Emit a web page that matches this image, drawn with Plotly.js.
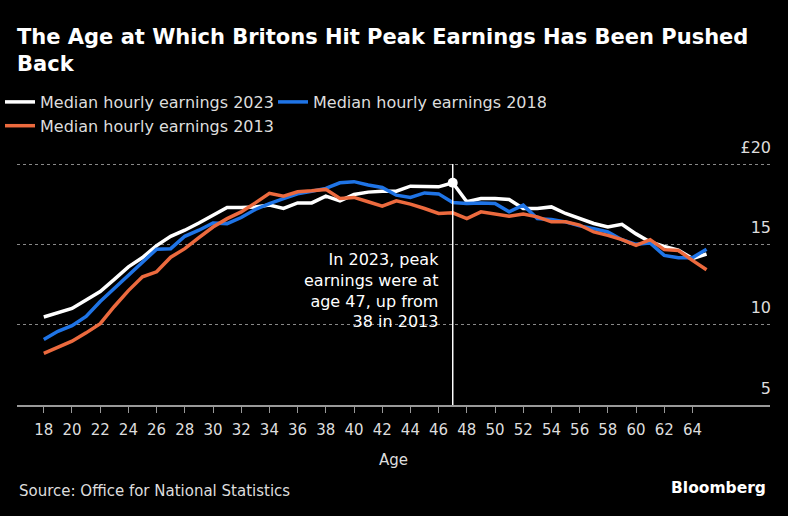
<!DOCTYPE html>
<html>
<head>
<meta charset="utf-8">
<script src="https://cdn.plot.ly/plotly-3.0.1.min.js"></script>
<style>
  html, body { margin: 0; padding: 0; background: #000; }
  #chart { width: 788px; height: 516px; }
</style>
</head>
<body>
<div id="chart"></div>
<script>
// Ages 18..65
const ages = [18,19,20,21,22,23,24,25,26,27,28,29,30,31,32,33,34,35,36,37,38,39,40,41,
              42,43,44,45,46,47,48,49,50,51,52,53,54,55,56,57,58,59,60,61,62,63,64,65];

const earnings2023 = [10.48,10.72,11.01,11.54,12.06,12.82,13.60,14.18,14.92,15.50,15.88,16.33,
  16.80,17.29,17.29,17.33,17.44,17.23,17.58,17.58,18.00,17.71,18.10,18.25,18.31,18.31,18.62,
  18.58,18.58,18.83,17.65,17.85,17.85,17.79,17.23,17.23,17.33,16.92,16.60,16.30,16.08,16.25,
  15.65,15.15,14.87,14.64,14.12,14.40];

const earnings2018 = [9.07,9.59,9.94,10.51,11.44,12.26,13.09,13.91,14.70,14.73,15.50,15.88,
  16.33,16.29,16.67,17.17,17.54,17.85,18.15,18.30,18.48,18.83,18.90,18.69,18.54,18.06,17.92,
  18.20,18.14,17.60,17.54,17.58,17.54,17.02,17.44,16.60,16.54,16.40,16.15,15.98,15.77,15.29,
  15.00,15.08,14.31,14.17,14.17,14.70];

const earnings2013 = [8.21,8.60,8.97,9.49,10.06,11.13,12.12,12.98,13.29,14.20,14.73,15.42,
  16.08,16.60,17.02,17.58,18.17,18.00,18.27,18.33,18.42,17.85,17.92,17.65,17.38,17.71,17.50,
  17.23,16.92,16.96,16.60,17.02,16.88,16.75,16.88,16.71,16.40,16.40,16.20,15.77,15.56,15.29,
  14.94,15.29,14.67,14.62,14.00,13.42];

const seriesNames = ['Median hourly earnings 2023','Median hourly earnings 2018','Median hourly earnings 2013'];
const xTickVals = [18,20,22,24,26,28,30,32,34,36,38,40,42,44,46,48,50,52,54,56,58,60,62,64];
const yTickVals = [5,10,15,20];
const yTickText = ['5','10','15','£20'];
const annotationText = 'In 2023, peak<br>earnings were at<br>age 47, up from<br>38 in 2013';

// peak of the 2023 series
let peakIdx = 0;
earnings2023.forEach((v,i)=>{ if (v > earnings2023[peakIdx]) peakIdx = i; });
const peakAge = ages[peakIdx];
const peakVal = earnings2023[peakIdx];

const FONT = 'DejaVu Sans, Verdana, sans-serif';
const colors = ['#ffffff', '#1f74e6', '#ec6a3e'];

// plot area geometry (pixels)
const W = 788, H = 516, L = 17, R = 18, T = 133, B = 111;
const plotW = W - L - R, plotH = H - T - B;
const yTop = 5 + (H - B - T) * 15 / 241;  // keeps 5..20 spanning 241px
const py = (pix) => (H - B - pix) / plotH; // pixel row -> paper y

const traces = [earnings2023, earnings2018, earnings2013].map((ys, i) => ({
  x: ages, y: ys, type: 'scatter', mode: 'lines', name: seriesNames[i],
  line: { color: colors[i], width: 3.5 }, hoverinfo: 'skip'
}));
traces.push({
  x: [peakAge], y: [peakVal], type: 'scatter', mode: 'markers', showlegend: false,
  marker: { color: '#ffffff', size: 10 }, hoverinfo: 'skip'
});

const layout = {
  width: W, height: H,
  paper_bgcolor: '#000', plot_bgcolor: '#000',
  margin: { l: L, r: R, t: T, b: B, autoexpand: false },
  font: { family: FONT, color: '#dddddd' },
  title: {
    text: 'The Age at Which Britons Hit Peak Earnings Has Been Pushed<br>Back',
    font: { family: FONT, size: 21, weight: 700, color: '#ffffff' },
    xref: 'container', x: 17/788, xanchor: 'left',
    yref: 'container', y: 1 - 44/516, yanchor: 'top'
  },
  showlegend: true,
  legend: {
    orientation: 'h', x: -17/plotW, xanchor: 'left', y: py(85), yanchor: 'top',
    font: { family: FONT, size: 16, color: '#dddddd' },
    bgcolor: 'rgba(0,0,0,0)', itemwidth: 30,
    entrywidth: 228, entrywidthmode: 'pixels', tracegroupgap: 0
  },
  xaxis: {
    range: [16.1, 69.5], tickvals: xTickVals, ticktext: xTickVals.map(String),
    showgrid: false, zeroline: false,
    showline: true, linecolor: '#999999', linewidth: 1.5,
    ticks: 'outside', ticklen: 6, tickcolor: '#999999', tickwidth: 1,
    ticklabelstandoff: 4,
    tickfont: { family: FONT, size: 15, color: '#dddddd' },
    title: { text: 'Age', font: { family: FONT, size: 15, color: '#dddddd' }, standoff: 17 }
  },
  yaxis: {
    range: [5, yTop], side: 'right', tickvals: yTickVals, ticktext: yTickText,
    showgrid: true, gridcolor: '#888888', griddash: 'dot', gridwidth: 1,
    zeroline: false, showline: false, ticks: '',
    ticklabelposition: 'inside', ticklabelshift: -17, ticklabelstandoff: -4,
    tickfont: { family: FONT, size: 16, color: '#dddddd' }
  },
  shapes: [{
    type: 'line', xref: 'x', yref: 'y', x0: peakAge, x1: peakAge, y0: 5, y1: 20,
    line: { color: '#ffffff', width: 1.5 }, layer: 'above'
  }],
  annotations: [
    { x: peakAge, y: 12.1, xref: 'x', yref: 'y', xanchor: 'right', yanchor: 'middle', xshift: -12,
      text: annotationText, showarrow: false, align: 'right',
      font: { family: FONT, size: 16, color: '#ffffff' } },
    { xref: 'paper', yref: 'paper', x: 0, y: py(491), xanchor: 'left', yanchor: 'middle',
      text: 'Source: Office for National Statistics', showarrow: false,
      font: { family: FONT, size: 15, color: '#dddddd' } },
    { xref: 'paper', yref: 'paper', x: (768-L)/plotW, y: py(488), xanchor: 'right', yanchor: 'middle',
      text: '<b>Bloomberg</b>', showarrow: false,
      font: { family: FONT, size: 15.5, color: '#ffffff' } }
  ]
};

Plotly.newPlot('chart', traces, layout, { displayModeBar: false, staticPlot: true });
</script>
</body>
</html>
